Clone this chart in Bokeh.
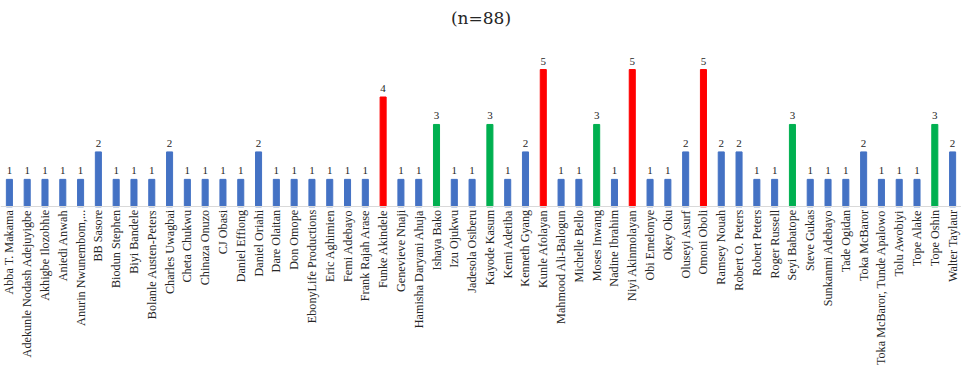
import math
from bokeh.plotting import figure
from bokeh.models import ColumnDataSource, FactorRange, Range1d, LabelSet
from bokeh.embed import file_html
from bokeh.resources import INLINE

directors = [
    "Abba T. Makama", "Adekunle Nodash Adejuyigbe", "Akhigbe Ilozobhie", "Aniedi Anwah",
    "Anurin Nwunembom,...", "BB Sasore", "Biodun Stephen", "Biyi Bandele",
    "Bolanle Austen-Peters", "Charles Uwagbai", "Cheta Chukwu", "Chinaza Onuzo",
    "CJ Obasi", "Daniel Effiong", "Daniel Oriahi", "Dare Olaitan", "Don Omope",
    "EbonyLife Productions", "Eric Aghimien", "Femi Adebayo", "Frank Rajah Arase",
    "Funke Akindele", "Genevieve Nnaji", "Hamisha Daryani Ahuja", "Ishaya Bako",
    "Izu Ojukwu", "Jadesola Osiberu", "Kayode Kasum", "Kemi Adetiba", "Kenneth Gyang",
    "Kunle Afolayan", "Mahmood Ali-Balogun", "Michelle Bello", "Moses Inwang",
    "Nadine Ibrahim", "Niyi Akinmolayan", "Obi Emelonye", "Okey Oku", "Oluseyi Asurf",
    "Omoni Oboli", "Ramsey Nouah", "Robert O. Peters", "Robert Peters", "Roger Russell",
    "Seyi Babatope", "Steve Gukas", "Sunkanmi Adebayo", "Tade Ogidan", "Toka McBaror",
    "Toka McBaror, Tunde Apalowo", "Tolu Awobiyi", "Tope Alake", "Tope Oshin",
    "Walter Taylaur",
]
counts = [
    1, 1, 1, 1,
    1, 2, 1, 1,
    1, 2, 1, 1,
    1, 1, 2, 1, 1,
    1, 1, 1, 1,
    4, 1, 1, 3,
    1, 1, 3, 1, 2,
    5, 1, 1, 3,
    1, 5, 1, 1, 2,
    5, 2, 2, 1, 1,
    3, 1, 1, 1, 2,
    1, 1, 1, 3,
    2,
]

BLUE, RED, GREEN = "#4472C4", "#FF0000", "#00B050"
def pick(v):
    if v >= 4:
        return RED
    if v == 3:
        return GREEN
    return BLUE
colors = [pick(v) for v in counts]

src = ColumnDataSource(dict(x=directors, top=counts, color=colors,
                            lbl=[str(v) for v in counts]))

p = figure(x_range=FactorRange(*directors), y_range=Range1d(-5.89, 6.35),
           width=961, height=368, output_backend="svg", toolbar_location=None,
           title="(n=88)", min_border_left=0, min_border_right=0, min_border_top=0,
           min_border_bottom=0)
p.title.align = "center"
p.title.text_font = "DejaVu Serif"
p.title.text_font_style = "normal"
p.title.text_font_size = "17px"
p.title.text_color = "#262626"
p.title.text_line_height = 0.8

p.vbar(x="x", top="top", width=0.34, color="color", source=src)
labels = LabelSet(x="x", y="top", text="lbl", source=src, text_align="center",
                  text_baseline="bottom", y_offset=5, text_font_size="11px",
                  text_font="Liberation Sans", text_color="#262626")
p.add_layout(labels)

p.yaxis.visible = False
p.xgrid.visible = False
p.ygrid.visible = False
p.outline_line_color = None
p.xaxis.fixed_location = 0
p.xaxis.axis_line_color = "#D9D9D9"
p.xaxis.major_tick_line_color = None
p.xaxis.minor_tick_line_color = None
p.xaxis.major_tick_out = 0
p.xaxis.major_tick_in = 0
p.xaxis.minor_tick_out = 0
p.xaxis.major_label_orientation = math.pi / 2
p.xaxis.major_label_text_font = "Liberation Serif"
p.xaxis.major_label_text_font_size = "12.2px"
p.xaxis.major_label_text_color = "#262626"
p.xaxis.major_label_standoff = 3

open("out.html", "w").write(file_html(p, INLINE))
